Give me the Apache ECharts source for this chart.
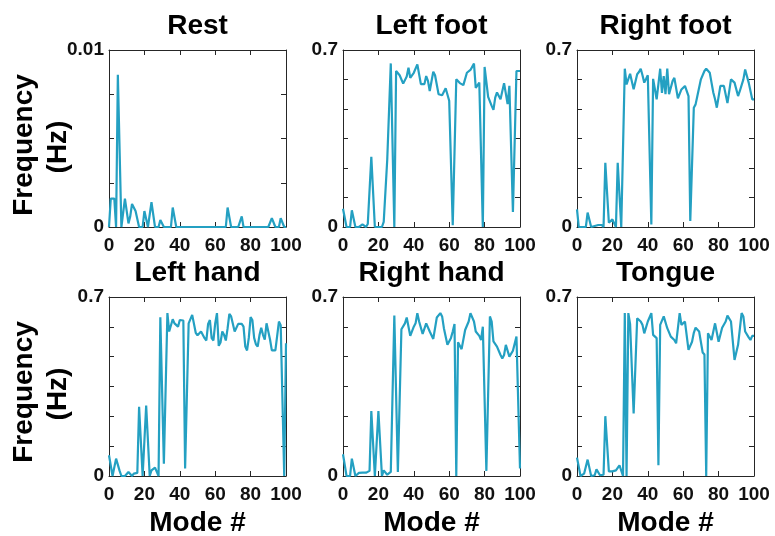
<!DOCTYPE html>
<html>
<head>
<meta charset="utf-8">
<script src="https://cdn.jsdelivr.net/npm/echarts@6/dist/echarts.min.js"></script>
<style>
  html, body { margin: 0; padding: 0; background: #fff; }
  #chart { width: 775px; height: 536px; }
</style>
</head>
<body>
<div id="chart"></div>
<script>
// panel titles and y-limits
var titles = ['Rest', 'Left foot', 'Right foot', 'Left hand', 'Right hand', 'Tongue']
var yMax = [0.01, 0.7, 0.7, 0.7, 0.7, 0.7]
var yDiv = [4, 6, 6, 6, 6, 6]

// frequency (Hz) per mode, modes 0..100
var restVals = [0, 0.0016, 0.0016, 0.0016, 0, 0.0086, 0.0086, 0, 0, 0.0016,
  0.0016, 0.0002, 0.0006, 0.0013, 0.0013, 0.0009, 0.0008, 0, 0, 0,
  0.0009, 0.0009, 0, 0, 0.0014, 0.0014, 0, 0, 0, 0.0004,
  0.0004, 0, 0, 0, 0, 0, 0.0011, 0.0011, 0, 0,
  0, 0, 0, 0, 0, 0, 0, 0, 0, 0,
  0, 0, 0, 0, 0, 0, 0, 0, 0, 0,
  0, 0, 0, 0, 0, 0, 0, 0.0011, 0.0011, 0,
  0, 0, 0, 0, 0, 0.0006, 0, 0, 0, 0,
  0, 0, 0, 0, 0, 0, 0, 0, 0, 0,
  0, 0, 0.0005, 0.0005, 0, 0, 0, 0.0005, 0.0005, 0, 0]

var leftFootVals = [0.072, 0.072, 0, 0, 0, 0.066, 0.066, 0, 0, 0,
  0, 0.01, 0.01, 0, 0.012, 0.016, 0.278, 0.278, 0, 0,
  0, 0, 0, 0.02, 0.02, 0.267, 0.267, 0.647, 0.647, 0,
  0.617, 0.615, 0.6, 0.6, 0.567, 0.567, 0.595, 0.63, 0.59, 0.587,
  0.61, 0.613, 0.643, 0.643, 0.565, 0.565, 0.565, 0.597, 0.578, 0.538,
  0.538, 0.614, 0.6, 0.593, 0.525, 0.521, 0.521, 0.519, 0.549, 0.549,
  0.499, 0.492, 0.007, 0.007, 0.584, 0.582, 0.569, 0.565, 0.561, 0.555,
  0.61, 0.613, 0.621, 0.624, 0.646, 0.55, 0.545, 0.571, 0.571, 0,
  0.633, 0.633, 0.515, 0.512, 0.479, 0.463, 0.512, 0.532, 0.528, 0.505,
  0.505, 0.569, 0.569, 0.486, 0.558, 0.558, 0.059, 0.059, 0.617, 0.617, 0.617]

var rightFootVals = [0.07, 0, 0, 0, 0.004, 0, 0.057, 0.057, 0, 0,
  0.004, 0, 0.008, 0.008, 0.008, 0, 0.254, 0.254, 0.017, 0.017,
  0.03, 0.03, 0, 0.254, 0.254, 0, 0, 0.626, 0.564, 0.564,
  0.606, 0.606, 0.545, 0.545, 0.604, 0.613, 0.626, 0.6, 0.571, 0.585,
  0.6, 0.6, 0.01, 0.586, 0.584, 0.505, 0.505, 0.626, 0.53, 0.597,
  0.525, 0.627, 0.525, 0.525, 0.577, 0.59, 0.59, 0.509, 0.509, 0.544,
  0.544, 0.558, 0.558, 0.518, 0.024, 0.024, 0.472, 0.485, 0.518, 0.518,
  0.584, 0.584, 0.617, 0.626, 0.626, 0.61, 0.571, 0.532, 0.505, 0.472,
  0.472, 0.558, 0.558, 0.558, 0.558, 0.49, 0.49, 0.584, 0.584, 0.571,
  0.565, 0.518, 0.538, 0.538, 0.584, 0.623, 0.623, 0.571, 0.565, 0.505, 0.505]

var leftHandVals = [0.081, 0.081, 0, 0, 0.068, 0.068, 0.02, 0, 0, 0,
  0.003, 0.016, 0.012, 0, 0.009, 0.009, 0.012, 0.271, 0.271, 0,
  0, 0.275, 0.275, 0, 0.022, 0.022, 0.033, 0.029, 0, 0.621,
  0.621, 0.048, 0.048, 0.637, 0.565, 0.565, 0.613, 0.597, 0.597, 0.584,
  0.61, 0.61, 0.608, 0.029, 0.025, 0.597, 0.604, 0.63, 0.624, 0.56,
  0.55, 0.55, 0.565, 0.572, 0.539, 0.53, 0.595, 0.61, 0.539, 0.53,
  0.597, 0.637, 0.509, 0.522, 0.565, 0.552, 0.53, 0.577, 0.634, 0.624,
  0.617, 0.565, 0.56, 0.595, 0.597, 0.595, 0.584, 0.506, 0.491, 0.541,
  0.621, 0.61, 0.54, 0.515, 0.506, 0.55, 0.58, 0.552, 0.533, 0.597,
  0.6, 0.533, 0.491, 0.487, 0.491, 0.487, 0.604, 0.59, 0.585, 0, 0.519]

var rightHandVals = [0.085, 0.085, 0, 0, 0, 0.068, 0.068, 0, 0, 0.012,
  0.013, 0.013, 0.013, 0.013, 0.02, 0.02, 0.254, 0.254, 0, 0,
  0.254, 0.254, 0, 0.022, 0.016, 0.005, 0, 0.016, 0.022, 0.628,
  0.628, 0.016, 0.016, 0.574, 0.574, 0.597, 0.62, 0.62, 0.548, 0.548,
  0.584, 0.597, 0.637, 0.604, 0.607, 0.556, 0.556, 0.597, 0.604, 0.565,
  0.558, 0.536, 0.536, 0.62, 0.624, 0.637, 0.624, 0.578, 0.574, 0.513,
  0.513, 0.54, 0.565, 0.594, 0, 0.523, 0.523, 0.496, 0.496, 0.571,
  0.578, 0.604, 0.637, 0.634, 0.604, 0.565, 0.565, 0.548, 0.532, 0.584,
  0.578, 0.02, 0.02, 0.624, 0.604, 0.526, 0.526, 0.506, 0.506, 0.473,
  0.46, 0.473, 0.513, 0.513, 0.467, 0.467, 0.49, 0.49, 0.545, 0.545, 0.029]

var tongueVals = [0.072, 0.072, 0, 0.005, 0.009, 0.009, 0.064, 0.064, 0, 0,
  0.003, 0.026, 0.026, 0.003, 0.005, 0.005, 0.234, 0.234, 0.018, 0.018,
  0.018, 0.012, 0.022, 0.029, 0.042, 0.042, 0, 0.637, 0, 0.637,
  0.594, 0.594, 0.245, 0.245, 0.617, 0.617, 0.604, 0.591, 0.558, 0.552,
  0.604, 0.604, 0.637, 0.552, 0.545, 0.539, 0.042, 0.591, 0.598, 0.624,
  0.624, 0.578, 0.571, 0.545, 0.539, 0.532, 0.519, 0.519, 0.637, 0.591,
  0.591, 0.604, 0.604, 0.493, 0.49, 0.525, 0.56, 0.58, 0.58, 0.565,
  0.565, 0.483, 0.475, 0, 0.558, 0.558, 0.532, 0.532, 0.597, 0.591,
  0.525, 0.525, 0.58, 0.58, 0.604, 0.627, 0.624, 0.604, 0.597, 0.454,
  0.454, 0.513, 0.513, 0.637, 0.624, 0.565, 0.558, 0.542, 0.532, 0.548, 0.548]

var allVals = [restVals, leftFootVals, rightFootVals, leftHandVals, rightHandVals, tongueVals]

var lineColor = '#24a0c2'
var axisColor = '#262626'
var fontFam = '"Liberation Sans", Arial, sans-serif'

var gridLefts = [109, 343, 577]
var gridTops = [50, 297]
var boxW = 177
var boxH = [177, 179]

var grids = [], xAxes = [], yAxes = [], series = [], graphics = []

allVals.forEach(function(vals, i) {
  var row = Math.floor(i / 3)
  var col = i % 3
  grids.push({
    left: gridLefts[col], top: gridTops[row], width: boxW, height: boxH[row],
    containLabel: false, outerBoundsMode: 'none'
  })
  var max = yMax[i]
  var step = max / yDiv[i]
  var tickStyle = { show: true, inside: true, length: 5, lineStyle: { color: axisColor, width: 1 } }
  var lineSt = { show: true, onZero: false, lineStyle: { color: axisColor, width: 1 } }

  xAxes.push({
    gridIndex: i, type: 'value', min: 0, max: 100, interval: 20, position: 'bottom',
    axisLine: lineSt, axisTick: tickStyle, splitLine: { show: false },
    axisLabel: { color: '#111', fontSize: 19, fontWeight: 'bold', fontFamily: fontFam, margin: 9 }
  })
  xAxes.push({
    gridIndex: i, type: 'value', min: 0, max: 100, interval: 20, position: 'top',
    axisLine: lineSt, axisTick: tickStyle, splitLine: { show: false },
    axisLabel: { show: false }
  })
  yAxes.push({
    gridIndex: i, type: 'value', min: 0, max: max, interval: step, position: 'left',
    axisLine: lineSt, axisTick: tickStyle, splitLine: { show: false },
    axisLabel: {
      color: '#111', fontSize: 19, fontWeight: 'bold', fontFamily: fontFam, margin: 5,
      formatter: function(v) {
        if (v === 0) return '0'
        if (Math.abs(v - max) < max * 1e-6) return String(max)
        return ''
      }
    }
  })
  yAxes.push({
    gridIndex: i, type: 'value', min: 0, max: max, interval: step, position: 'right',
    axisLine: lineSt, axisTick: tickStyle, splitLine: { show: false },
    axisLabel: { show: false }
  })

  series.push({
    type: 'line',
    xAxisIndex: 2 * i,
    yAxisIndex: 2 * i,
    data: vals.map(function(v, k) { return [k, v] }),
    showSymbol: false,
    clip: false,
    lineStyle: { color: lineColor, width: 2.2 }
  })

  graphics.push({
    type: 'text',
    x: gridLefts[col] + boxW / 2,
    y: gridTops[row] - 24,
    style: {
      text: titles[i], fill: '#000', font: 'bold 28px ' + fontFam,
      textAlign: 'center', textVerticalAlign: 'middle'
    }
  })
  if (row === 1) {
    graphics.push({
      type: 'text',
      x: gridLefts[col] + boxW / 2,
      y: 523,
      style: {
        text: 'Mode #', fill: '#000', font: 'bold 28px ' + fontFam,
        textAlign: 'center', textVerticalAlign: 'middle'
      }
    })
  }
})

// y axis names, one per row
;[145, 392].forEach(function(cy) {
  graphics.push({
    type: 'text', x: 24, y: cy, rotation: Math.PI / 2,
    style: { text: 'Frequency', fill: '#000', font: 'bold 28px ' + fontFam, textAlign: 'center', textVerticalAlign: 'middle' }
  })
  graphics.push({
    type: 'text', x: 58, y: cy + 2, rotation: Math.PI / 2,
    style: { text: '(Hz)', fill: '#000', font: 'bold 28px ' + fontFam, textAlign: 'center', textVerticalAlign: 'middle' }
  })
})

var myChart = echarts.init(document.getElementById('chart'))
myChart.setOption({
  animation: false,
  backgroundColor: '#fff',
  grid: grids,
  xAxis: xAxes,
  yAxis: yAxes,
  series: series,
  graphic: graphics
})
</script>
</body>
</html>
